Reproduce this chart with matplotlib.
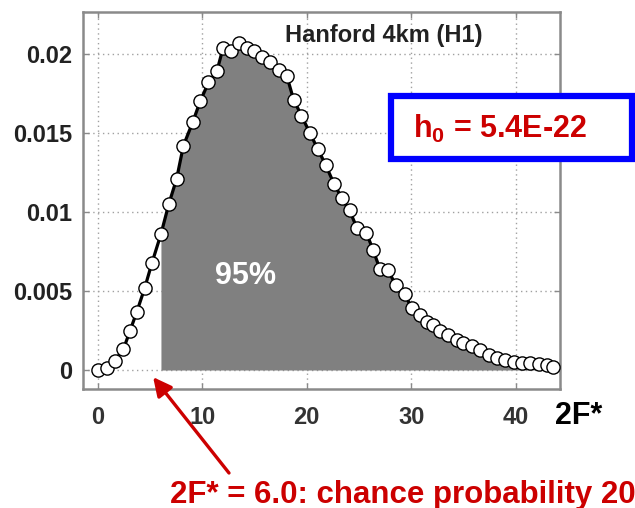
import numpy as np
import matplotlib
matplotlib.use("Agg")
import matplotlib.pyplot as plt

plt.rcParams['font.family'] = ['Liberation Sans', 'DejaVu Sans']
plt.rcParams['mathtext.fontset'] = 'custom'
plt.rcParams['mathtext.bf'] = 'Liberation Sans:bold'
plt.rcParams['mathtext.rm'] = 'Liberation Sans:bold'
plt.rcParams['mathtext.default'] = 'bf'

# 2F* values of the simulated points
twoF = [0.0, 0.85, 1.65, 2.45, 3.1, 3.75, 4.5, 5.2, 6.05, 6.8,
        7.55, 8.2, 9.1, 9.8, 10.6, 11.4, 12.0, 12.8, 13.5, 14.3,
        15.0, 15.7, 16.5, 17.3, 18.1, 18.75, 19.5, 20.3, 21.05, 21.8,
        22.6, 23.35, 24.1, 24.8, 25.7, 26.35, 27.0, 27.8, 28.5, 29.4,
        30.05, 30.8, 31.5, 32.1, 32.75, 33.55, 34.35, 35.0, 35.8, 36.6,
        37.4, 38.2, 39.0, 39.8, 40.6, 41.4, 42.2, 43.0, 43.6]
# probability density (x 1e-3)
dens = [0.0, 0.15, 0.6, 1.3, 2.5, 3.7, 5.2, 6.8, 8.6, 10.5,
        12.1, 14.2, 15.7, 17.0, 18.2, 18.9, 20.4, 20.2, 20.7, 20.4,
        20.2, 19.8, 19.5, 19.0, 18.6, 17.1, 16.1, 15.0, 14.0, 13.0,
        11.8, 10.9, 10.1, 9.0, 8.7, 7.6, 6.4, 6.3, 5.4, 4.8,
        3.9, 3.5, 3.05, 2.85, 2.5, 2.2, 1.9, 1.7, 1.5, 1.25,
        0.95, 0.75, 0.63, 0.53, 0.46, 0.42, 0.36, 0.32, 0.21]
threshold = 6.0
xticks = [0, 10, 20, 30, 40]
yticks = [0, 0.005, 0.01, 0.015, 0.02]
yticklabels = ['0', '0.005', '0.01', '0.015', '0.02']

x = np.array(twoF)
y = np.array(dens) * 1e-3

fig = plt.figure(figsize=(6.35, 5.08), dpi=100)
ax = fig.add_axes([0.1307, 0.2343, 0.7512, 0.7421])

ax.fill_between(x, 0, y, where=x >= threshold, color='#808080', lw=0, zorder=1)
ax.plot(x, y, color='black', lw=2.3, zorder=2)
ax.plot(x, y, 'o', ms=9.5, mfc='white', mec='black', mew=1.0, zorder=3)

ax.set_xlim(-1.41, 44.24)
ax.set_ylim(-0.0012, 0.02266)
ax.set_xticks(xticks)
ax.set_xticklabels([str(t) for t in xticks])
ax.set_yticks(yticks)
ax.set_yticklabels(yticklabels)
ax.grid(True, linestyle=(0, (1, 2.5)), color='#a0a0a0', lw=1.0)
ax.set_axisbelow(True)

for s in ax.spines.values():
    s.set_color('#8a8a8a')
    s.set_linewidth(1.8)
ax.tick_params(direction='in', length=4, width=1, color='#8a8a8a',
               top=True, right=True, labelsize=17)
ax.tick_params(axis='x', pad=12, labelcolor='#333333')
ax.tick_params(axis='y', pad=8, labelcolor='#222222')
for lab in ax.get_xticklabels() + ax.get_yticklabels():
    lab.set_fontweight('bold')

ax.text(27.4, 0.0212, 'Hanford 4km (H1)', fontsize=17, fontweight='bold',
        color='#222222', ha='center', va='center')
ax.text(14.1, 0.00595, '95%', fontsize=22, fontweight='bold',
        color='white', ha='center', va='center', zorder=4)

# x axis label
fig.text(555 / 635, 1 - 416 / 508, '2F*', fontsize=22, fontweight='bold',
         color='black', ha='left', va='center')

# h0 box
fig.text(413 / 635, 1 - 138 / 508, r'$h_0$ = 5.4E-22', fontsize=22,
         fontweight='bold', color='#cc0000', ha='left', va='baseline')
box = plt.Rectangle((390.5 / 635, 1 - 158.5 / 508), 241 / 635, 63 / 508,
                    transform=fig.transFigure, fill=True, facecolor='white',
                    edgecolor='#0000ff', lw=4.5, zorder=0)
fig.patches.append(box)
fig.texts[-1].set_zorder(5)

# chance probability note
fig.text(170 / 635, 1 - 503 / 508, '2F* = 6.0: chance probability 20%',
         fontsize=22.5, fontweight='bold', color='#cc0000',
         ha='left', va='baseline')
ax.annotate('', xy=(5.3, -0.00045), xycoords='data',
            xytext=(229 / 635, 1 - 473 / 508), textcoords='figure fraction',
            arrowprops=dict(arrowstyle='-|>', color='#cc0000', lw=2.4,
                            mutation_scale=28, shrinkA=0, shrinkB=0),
            annotation_clip=False)

fig.savefig('out.png', dpi=100)
